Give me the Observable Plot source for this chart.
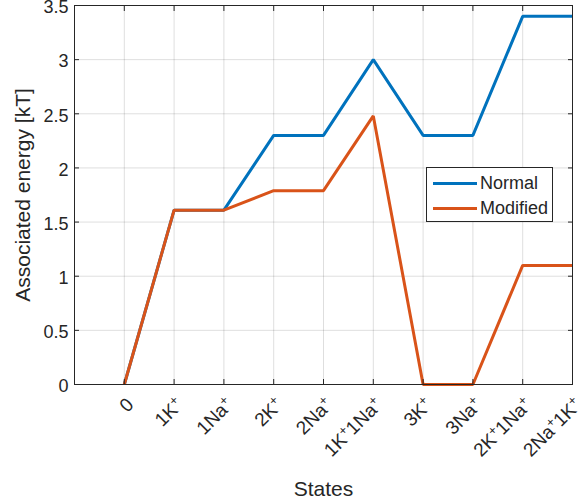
<!DOCTYPE html>
<html>
<head>
<meta charset="utf-8">
<script src="https://cdn.jsdelivr.net/npm/d3@7"></script>
<script src="https://cdn.jsdelivr.net/npm/@observablehq/plot@0.6"></script>
<style>
  body { margin: 0; background: #fff; }
  #wrap { position: relative; width: 584px; height: 504px; font-family: "Liberation Sans", Arial, sans-serif; }
  #legend { position: absolute; left: 426px; top: 167px; width: 127px; height: 55px; border: 1px solid #262626; background: #fff; box-sizing: border-box; font-size: 18px; color: #262626; }
  .row { position: absolute; left: 6px; display: flex; align-items: center; line-height: 21px; }
  .sw { width: 44px; height: 3px; margin-right: 3px; }
</style>
</head>
<body>
<div id="wrap"></div>
<script>
const states = ["0", "1K⁺", "1Na⁺", "2K⁺", "2Na⁺", "1K⁺1Na⁺", "3K⁺", "3Na⁺", "2K⁺1Na⁺", "2Na⁺1K⁺"];
const normal = [0, 1.61, 1.61, 2.3, 2.3, 3.0, 2.3, 2.3, 3.4, 3.4];
const modified = [0, 1.61, 1.61, 1.79, 1.79, 2.48, 0, 0, 1.1, 1.1];
const seriesNames = ["Normal", "Modified"];
const seriesColors = ["#0072BD", "#D95319"];
const yTicks = [0, 0.5, 1, 1.5, 2, 2.5, 3, 3.5];

const idx = states.map((_, i) => i);
const data = [
  ...normal.map((v, i) => ({i, v, s: seriesNames[0]})),
  ...modified.map((v, i) => ({i, v, s: seriesNames[1]}))
];

const chart = Plot.plot({
  width: 584,
  height: 504,
  marginLeft: 74,
  marginRight: 12,
  marginTop: 5,
  marginBottom: 120,
  style: {fontFamily: "'Liberation Sans', Arial, sans-serif", color: "#262626", background: "#fff", overflow: "visible"},
  x: {domain: [-1, 9]},
  y: {domain: [0, 3.5]},
  color: {domain: seriesNames, range: seriesColors},
  marks: [
    Plot.gridX(idx, {stroke: "#000", strokeOpacity: 0.13}),
    Plot.gridY(yTicks, {stroke: "#000", strokeOpacity: 0.13}),
    Plot.line(data, {x: "i", y: "v", z: "s", stroke: "s", strokeWidth: 3, strokeLinejoin: "miter", strokeLinecap: "butt"}),
    Plot.frame({stroke: "#262626"}),
    Plot.axisX(idx, {anchor: "bottom", tickSize: -5, tickFormat: () => "", label: null, stroke: "#262626"}),
    Plot.axisX(idx, {anchor: "top", tickSize: -5, tickFormat: () => "", label: null, stroke: "#262626"}),
    Plot.axisY(yTicks, {anchor: "left", tickSize: -5, tickFormat: () => "", label: null, stroke: "#262626"}),
    Plot.axisY(yTicks, {anchor: "right", tickSize: -5, tickFormat: () => "", label: null, stroke: "#262626"}),
    Plot.axisX(idx, {anchor: "bottom", tickSize: 0, tickPadding: 17, dx: 6, tickRotate: -45, tickFormat: i => states[i], fontSize: 19, label: null, fill: "#262626"}),
    Plot.axisY(yTicks, {anchor: "left", tickSize: 0, tickPadding: 6, dy: 2, tickFormat: d => String(d), fontSize: 18, label: null, fill: "#262626"}),
    Plot.text(["States"], {frameAnchor: "bottom", lineAnchor: "middle", dy: 105, fontSize: 21, fill: "#262626"}),
    Plot.text(["Associated energy [kT]"], {frameAnchor: "left", textAnchor: "middle", dx: -51, rotate: -90, fontSize: 21, fill: "#262626"})
  ]
});
const wrap = document.getElementById("wrap");
wrap.appendChild(chart);

// render superscript "+" as raised smaller text
const svgNS = "http://www.w3.org/2000/svg";
chart.querySelectorAll("text").forEach(t => {
  if (t.children.length === 0 && t.textContent.includes("⁺")) {
    const parts = t.textContent.split(/(⁺)/).filter(p => p !== "");
    t.textContent = "";
    parts.forEach(p => {
      const ts = document.createElementNS(svgNS, "tspan");
      if (p === "⁺") {
        ts.textContent = "+";
        ts.setAttribute("baseline-shift", "super");
        ts.setAttribute("font-size", "13");
      } else {
        ts.textContent = p;
      }
      t.appendChild(ts);
    });
  }
});

const legend = document.createElement("div");
legend.id = "legend";
seriesNames.forEach((name, k) => {
  const row = document.createElement("div");
  row.className = "row";
  row.style.top = (k === 0 ? 5 : 30) + "px";
  const sw = document.createElement("div");
  sw.className = "sw";
  sw.style.background = seriesColors[k];
  const label = document.createElement("span");
  label.textContent = name;
  row.appendChild(sw);
  row.appendChild(label);
  legend.appendChild(row);
});
wrap.appendChild(legend);
</script>
</body>
</html>
